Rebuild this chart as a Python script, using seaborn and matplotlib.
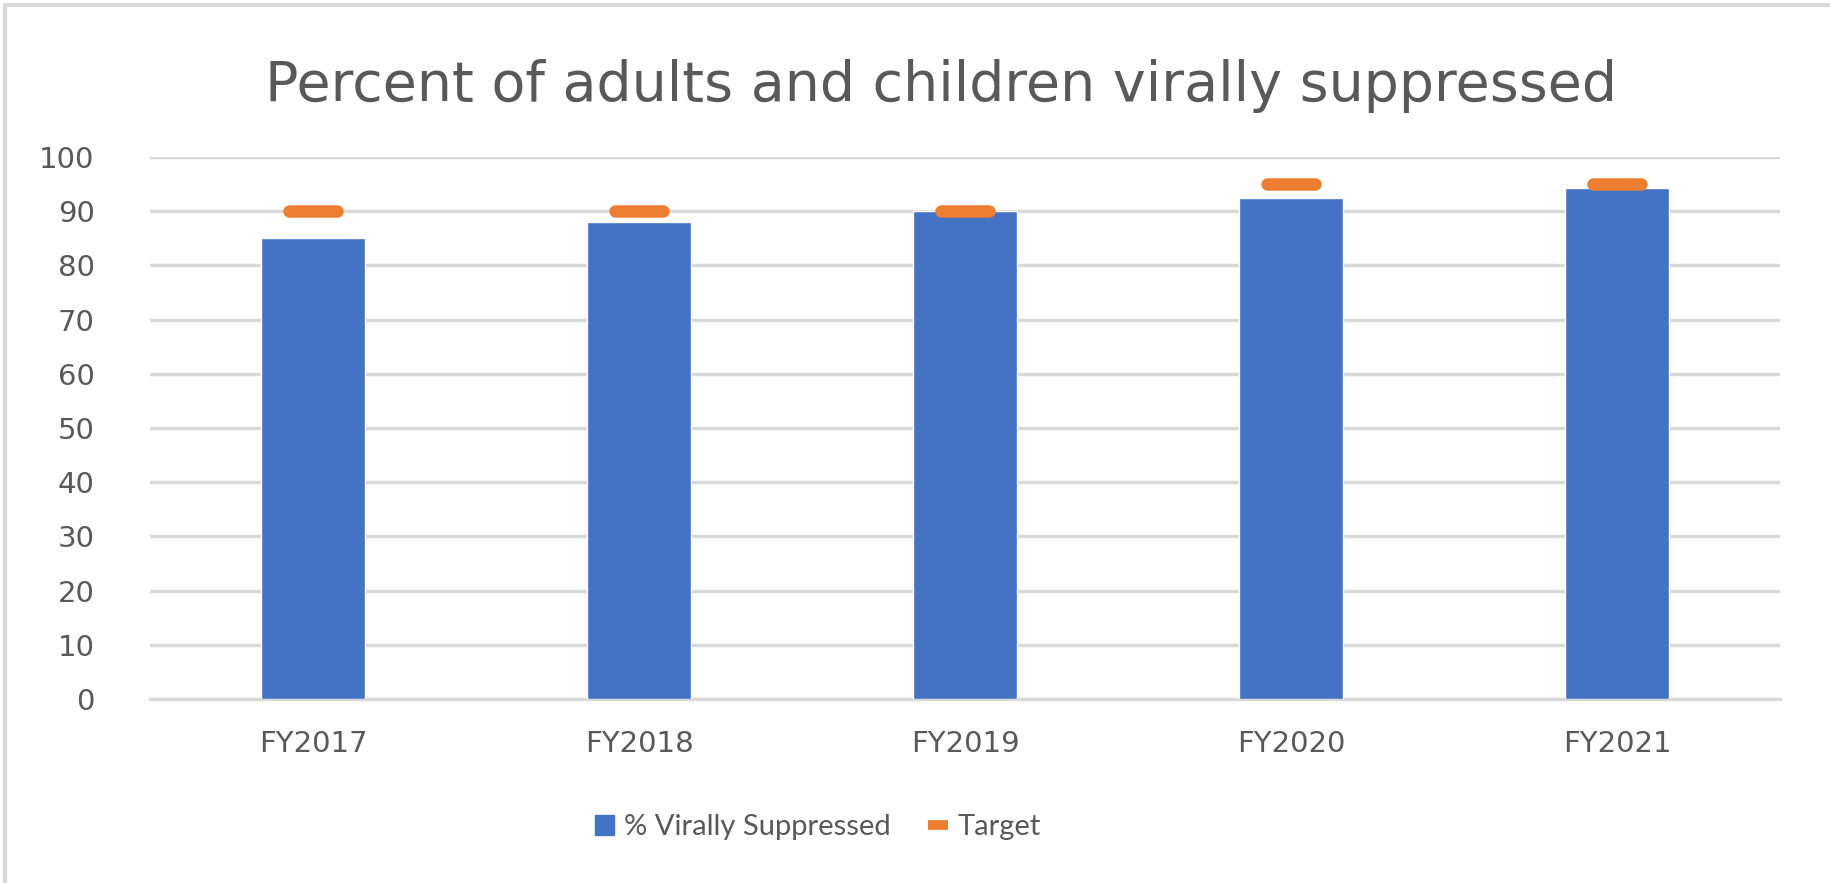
import matplotlib
matplotlib.use("Agg")
import matplotlib.pyplot as plt
import seaborn as sns
import pandas as pd
from matplotlib.lines import Line2D
from matplotlib.patches import Patch

categories = ["FY2017", "FY2018", "FY2019", "FY2020", "FY2021"]
suppressed = [85, 88, 90, 92.5, 94.3]
target = [90, 90, 90, 95, 95]
yticks = [0, 10, 20, 30, 40, 50, 60, 70, 80, 90, 100]

sns.set_theme(style="white")
plt.rcParams['font.family'] = ['DejaVu Sans']

BLUE = "#4472C4"
ORANGE = "#ED7D31"
TXT = "#595959"
GRID = "#D9D9D9"

df = pd.DataFrame({"cat": categories, "val": suppressed, "target": target})

fig = plt.figure(figsize=(18.3, 8.83), dpi=100)
ax = fig.add_axes([0.082, 0.2084, 0.8907, 0.6138])

sns.barplot(data=df, x="cat", y="val", color=BLUE, width=0.32, saturation=1,
            ax=ax, zorder=3)
sns.scatterplot(data=df, x="cat", y="target", marker="_", s=1150,
                color=ORANGE, linewidth=9, ax=ax, zorder=4)
for coll in ax.collections:
    coll.set_capstyle("round")

ax.set_xlim(-0.5, 4.5)
ax.set_ylim(0, 100)
ax.set_yticks(yticks)
ax.set_yticklabels([str(v) for v in yticks])
ax.yaxis.grid(True, color=GRID, linewidth=2.5, zorder=0)
ax.set_axisbelow(True)
for s in ["left", "right", "top"]:
    ax.spines[s].set_visible(False)
ax.spines["bottom"].set_color(GRID)
ax.spines["bottom"].set_linewidth(2.5)
ax.tick_params(axis="y", labelsize=21, labelcolor=TXT, length=0, pad=40)
ax.tick_params(axis="x", labelsize=21, labelcolor=TXT, length=0, pad=22)
ax.set_xlabel("")
ax.set_ylabel("")

fig.text(0.514, 0.903, "Percent of adults and children virally suppressed",
         ha="center", va="center", fontsize=40, color=TXT)

handles = [Patch(facecolor=BLUE, edgecolor=BLUE, label="% Virally Suppressed"),
           Line2D([0], [0], color=ORANGE, marker="_", markersize=15,
                  markeredgewidth=7, linestyle="None", label="Target")]
leg = fig.legend(handles=handles, loc="center", bbox_to_anchor=(0.447, 0.063),
                 ncol=2, frameon=False, labelcolor=TXT,
                 handlelength=0.65, handleheight=0.65, handletextpad=0.35,
                 columnspacing=1.3, prop={"family": "Lato", "size": 21})

# outer border (left and top)
fig.add_artist(Line2D([0.003, 0.003], [0.0, 0.994], transform=fig.transFigure,
                      color="#D9D9D9", linewidth=3))
fig.add_artist(Line2D([0.003, 1.0], [0.994, 0.994], transform=fig.transFigure,
                      color="#D9D9D9", linewidth=3))

fig.savefig("out.png", dpi=100, facecolor="white")
